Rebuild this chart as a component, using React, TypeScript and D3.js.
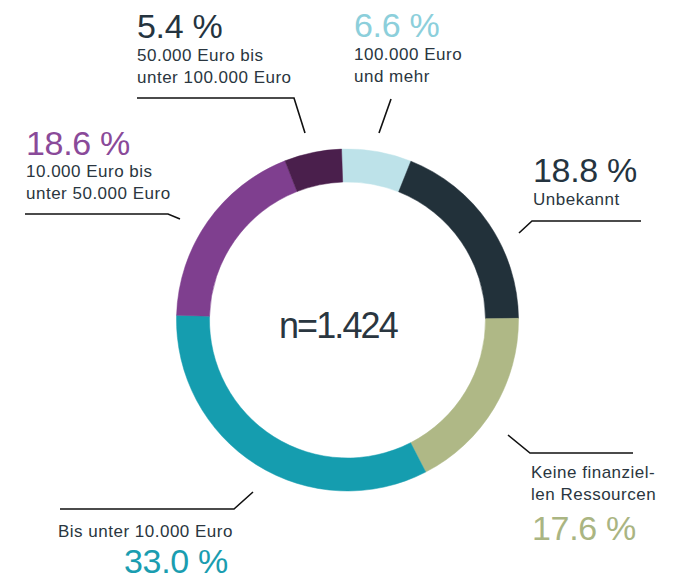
import React from "react";
import * as d3 from "d3";

const categories = [
  "100.000 Euro und mehr",
  "Unbekannt",
  "Keine finanziellen Ressourcen",
  "Bis unter 10.000 Euro",
  "10.000 Euro bis unter 50.000 Euro",
  "50.000 Euro bis unter 100.000 Euro",
];
const values = [6.6, 18.8, 17.6, 33.0, 18.6, 5.4];
const segmentColors = ["#bde2e9", "#22313a", "#afb886", "#159daf", "#7f3f8f", "#4a1f4c"];
const percentColors = ["#8ccfdb", "#25343f", "#aab582", "#1a9db0", "#8a4a99", "#25343f"];
const percentLabels = ["6.6 %", "18.8 %", "17.6 %", "33.0 %", "18.6 %", "5.4 %"];
const labelLines = [
  ["100.000 Euro", "und mehr"],
  ["Unbekannt"],
  ["Keine finanziel-", "len Ressourcen"],
  ["Bis unter 10.000 Euro"],
  ["10.000 Euro bis", "unter 50.000 Euro"],
  ["50.000 Euro bis", "unter 100.000 Euro"],
];
const totalLabel = "n=1.424";

// label layout: percent position, text lines, leader polyline
const layout = [
  { px: 354, py: 37, lx: 354, ly: 60, leader: [[391, 99], [379, 133]] },
  { px: 533, py: 182, lx: 533, ly: 205, leader: [[641, 221], [532, 221], [519, 233]] },
  { px: 532, py: 540, lx: 531, ly: 478, leader: [[508, 435], [530, 453], [633, 453]] },
  { px: 124, py: 573, lx: 58, ly: 537, leader: [[253, 492], [234, 509], [60, 509]] },
  { px: 26, py: 155, lx: 26, ly: 177, leader: [[25, 214], [168, 214], [180, 219]] },
  { px: 137, py: 38, lx: 137, ly: 61, leader: [[137, 98], [294, 98], [305, 133]] },
];

const W = 678;
const H = 579;
const cx = 347.5;
const cy = 320;
const outerR = 171;
const innerR = 138;
const textColor = "#2a3640";
const font = "'Liberation Sans', Arial, Helvetica, sans-serif";

export default function App() {
  const start = (-2 * Math.PI) / 180;
  const pie = d3
    .pie<number>()
    .sort(null)
    .value((d) => d)
    .startAngle(start)
    .endAngle(start + 2 * Math.PI);
  const arcs = pie(values);
  const arcGen = d3.arc<d3.PieArcDatum<number>>().innerRadius(innerR).outerRadius(outerR);
  const line = d3.line();

  return (
    <svg
      width={W}
      height={H}
      viewBox={`0 0 ${W} ${H}`}
      style={{ position: "absolute", left: 0, top: 0, background: "#fff" }}
    >
      <g transform={`translate(${cx},${cy})`}>
        {arcs.map((a, i) => (
          <path key={categories[i]} d={arcGen(a) || ""} fill={segmentColors[i]} stroke={segmentColors[i]} strokeWidth={0.5} />
        ))}
      </g>
      <text
        x={279}
        y={338}
        fontFamily={font}
        fontSize={36}
        letterSpacing={-1.9}
        fill={textColor}
      >
        {totalLabel}
      </text>
      {layout.map((l, i) => (
        <g key={"lbl" + i}>
          <path
            d={line(l.leader as [number, number][]) || ""}
            fill="none"
            stroke="#111"
            strokeWidth={1.6}
          />
          <text
            x={l.px}
            y={l.py}
            fontFamily={font}
            fontSize={34}
            letterSpacing={-0.3}
            fill={percentColors[i]}
          >
            {percentLabels[i]}
          </text>
          {labelLines[i].map((t, j) => (
            <text
              key={j}
              x={l.lx}
              y={l.ly + j * 22}
              fontFamily={font}
              fontSize={17}
              letterSpacing={0.5}
              fill={textColor}
            >
              {t}
            </text>
          ))}
        </g>
      ))}
    </svg>
  );
}
